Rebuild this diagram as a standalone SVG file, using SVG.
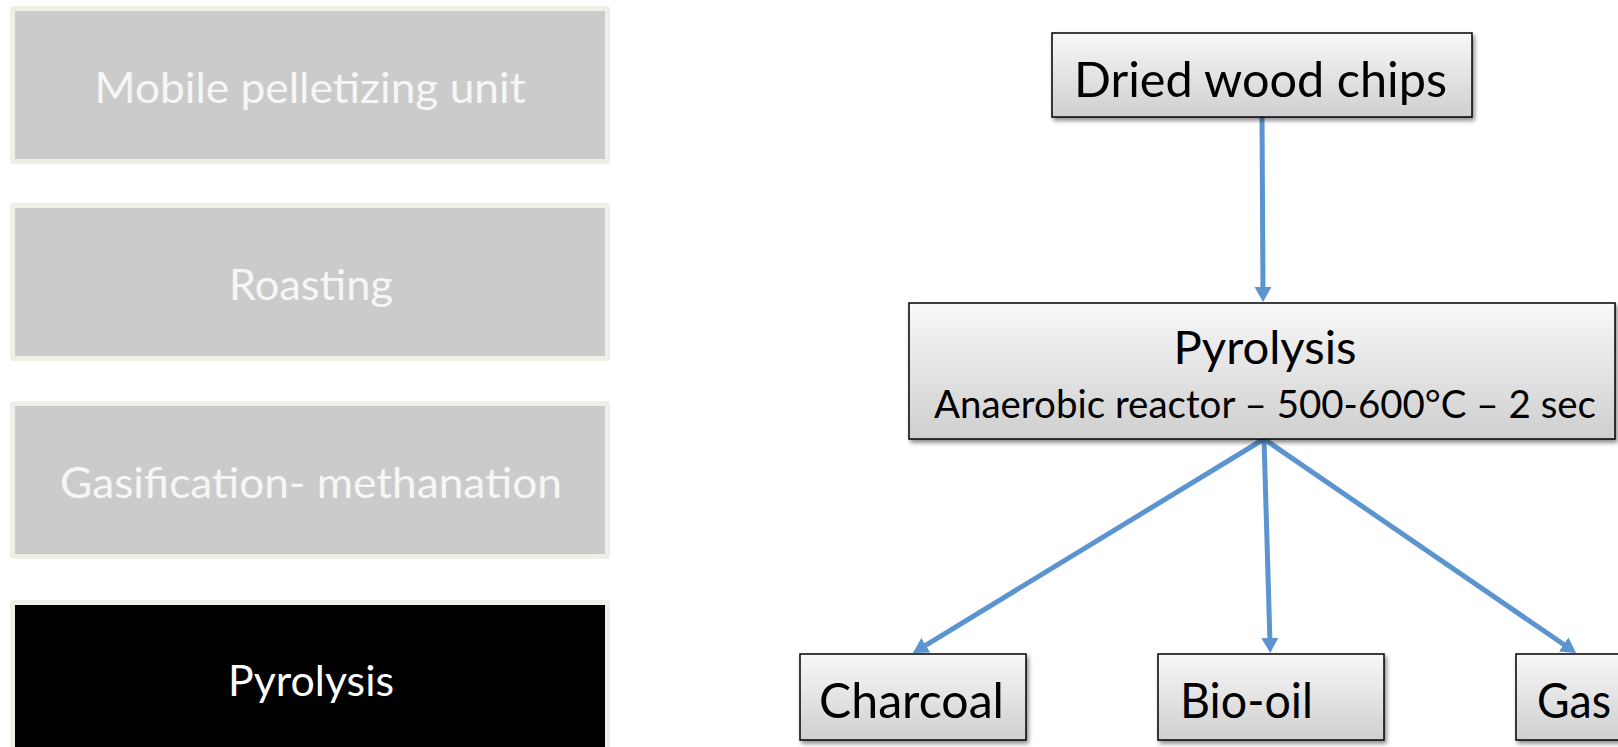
<svg xmlns="http://www.w3.org/2000/svg" width="1618" height="747" viewBox="0 0 1618 747">
<defs>
<style>
.side-outer{fill:#EFEFE8;}
.side-inner{fill:#CBCBCB;}
.side-text{font-family:Lato,"Open Sans",sans-serif;font-size:43px;fill:#F6F6F6;text-anchor:middle;}
.side-text-active{font-family:Lato,"Open Sans",sans-serif;font-size:43px;fill:#FFFFFF;text-anchor:middle;}
.box{fill:url(#grad);stroke:#000;stroke-width:1.5;filter:url(#shadow);}
.label{font-family:Lato,"Open Sans",sans-serif;fill:#000;}
.conn{stroke:#5B94CE;stroke-width:5;fill:none;marker-end:url(#arrow);}
</style>
<linearGradient id="grad" x1="0" y1="0" x2="0" y2="1">
<stop offset="0" stop-color="#F8F8F8"/>
<stop offset="1" stop-color="#CFCFCF"/>
</linearGradient>
<filter id="shadow" x="-10%" y="-10%" width="130%" height="140%">
<feDropShadow dx="2" dy="3" stdDeviation="2" flood-color="#000" flood-opacity="0.45"/>
</filter>
<marker id="arrow" markerUnits="userSpaceOnUse" viewBox="0 0 15 17" refX="5" refY="8.5" markerWidth="15" markerHeight="17" orient="auto">
<path d="M0,0 L15,8.5 L0,17 z" fill="#5B94CE"/>
</marker>
</defs>

<g id="side-mobile">
<rect class="side-outer" x="10" y="6" width="600" height="158" rx="3"/>
<rect class="side-inner" x="15" y="11" width="590" height="148"/>
<text class="side-text" x="310" y="103" textLength="431" lengthAdjust="spacingAndGlyphs">Mobile pelletizing unit</text>
</g>
<g id="side-roasting">
<rect class="side-outer" x="10" y="203" width="600" height="158" rx="3"/>
<rect class="side-inner" x="15" y="208" width="590" height="148"/>
<text class="side-text" x="311" y="300" textLength="164" lengthAdjust="spacingAndGlyphs">Roasting</text>
</g>
<g id="side-gasification">
<rect class="side-outer" x="10" y="401" width="600" height="158" rx="3"/>
<rect class="side-inner" x="15" y="406" width="590" height="148"/>
<text class="side-text" x="311" y="498" textLength="502" lengthAdjust="spacingAndGlyphs">Gasification- methanation</text>
</g>
<g id="side-pyrolysis">
<rect class="side-outer" x="10" y="600" width="600" height="160" rx="3"/>
<rect x="15" y="605" width="590" height="150" fill="#000"/>
<text class="side-text-active" x="311" y="696" textLength="166" lengthAdjust="spacingAndGlyphs">Pyrolysis</text>
</g>

<g id="connectors">
<line class="conn" x1="1262" y1="117" x2="1263" y2="292"/>
<line class="conn" x1="1264" y1="439" x2="921.5" y2="647.8"/>
<line class="conn" x1="1264" y1="439" x2="1270" y2="643"/>
<line class="conn" x1="1264" y1="439" x2="1567.8" y2="647.3"/>
</g>

<g id="node-dried">
<rect class="box" x="1052" y="33" width="420" height="84"/>
<text class="label" x="1074" y="97" font-size="49" textLength="373" lengthAdjust="spacingAndGlyphs">Dried wood chips</text>
</g>
<g id="node-pyrolysis">
<rect class="box" x="909" y="303" width="706" height="136"/>
<text class="label" x="1265" y="364" font-size="47" text-anchor="middle" textLength="183" lengthAdjust="spacingAndGlyphs">Pyrolysis</text>
<text class="label" x="1265" y="418" font-size="39" text-anchor="middle" textLength="662" lengthAdjust="spacingAndGlyphs">Anaerobic reactor – 500-600°C – 2 sec</text>
</g>
<g id="node-charcoal">
<rect class="box" x="800" y="654" width="226" height="86"/>
<text class="label" x="819" y="718" font-size="48" textLength="185" lengthAdjust="spacingAndGlyphs">Charcoal</text>
</g>
<g id="node-biooil">
<rect class="box" x="1158" y="654" width="226" height="86"/>
<text class="label" x="1180" y="718" font-size="48" textLength="133" lengthAdjust="spacingAndGlyphs">Bio-oil</text>
</g>
<g id="node-gas">
<rect class="box" x="1516" y="654" width="140" height="86"/>
<text class="label" x="1537" y="718" font-size="48" textLength="74" lengthAdjust="spacingAndGlyphs">Gas</text>
</g>
</svg>
